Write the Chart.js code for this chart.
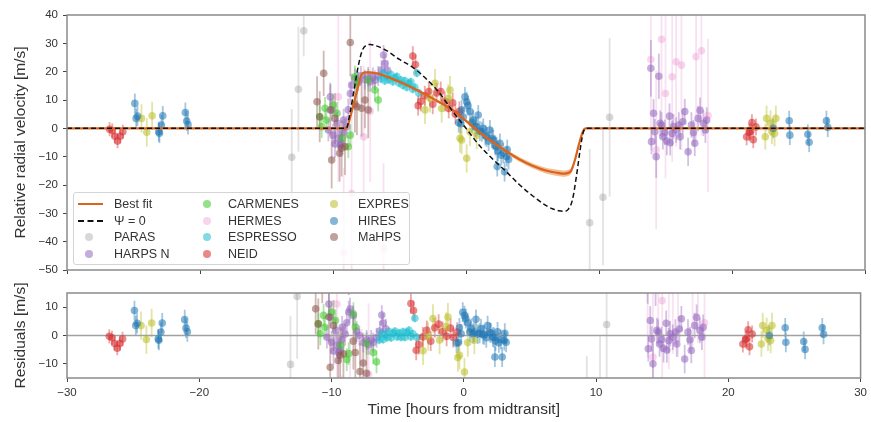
<!DOCTYPE html>
<html>
<head>
<meta charset="utf-8">
<script src="https://cdn.jsdelivr.net/npm/chart.js@4.4.1/dist/chart.umd.min.js"></script>
<style>
  body { margin: 0; background: #fff; font-family: "Liberation Sans", Arial, sans-serif; }
  #wrap { position: relative; width: 871px; height: 422px; }
  #wrap canvas { position: absolute; left: 0; }
  #legend { position: absolute; left: 73px; top: 192px; width: 337px; height: 73px; box-sizing: border-box;
            border: 1px solid #d4d4d4; border-radius: 3px; background: rgba(255,255,255,0.8); }
  .lg-text { position: absolute; font-size: 12.5px; color: #333; line-height: 14px; white-space: nowrap; }
  .lg-dot { position: absolute; width: 8px; height: 8px; border-radius: 50%; }
  .lg-line { position: absolute; width: 25px; height: 0; }
</style>
</head>
<body>
<div id="wrap">
  <canvas id="rv" width="871" height="285" style="top:0"></canvas>
  <canvas id="res" width="871" height="142" style="top:280px"></canvas>
  <div id="legend"></div>
</div>
<script>
// ---- tick labels ----
const timeTicks = [-30, -20, -10, 0, 10, 20, 30];
const rvTicks = [-50, -40, -30, -20, -10, 0, 10, 20, 30, 40];
const resTicks = [-10, 0, 10];

// ---- models ----
const fitT = [-30, -9.0, -8.7, -8.4, -8.1, -7.9, -7.7, -7.4, -7.0, -6.5, -6.0, -5.0, -4.0, -3.0, -2.0, -1.0, 0, 1, 2, 3, 4, 5, 6, 6.5, 7, 7.3, 7.6, 7.9, 8.2, 8.5, 8.8, 9.0, 30];
const fitV = [0, 0, 4, 9.5, 15, 18.5, 19.6, 19.8, 19.6, 19.2, 18.3, 16.4, 14.2, 11.8, 9.2, 6.4, 2.6, -1.3, -4.8, -8.0, -10.9, -13.2, -14.9, -15.4, -15.8, -16.0, -15.8, -15.0, -11.0, -5.5, -1.0, 0, 0];
const fitSpread = [0, 0, 0.3, 0.4, 0.4, 0.4, 0.4, 0.4, 0.4, 0.4, 0.4, 0.4, 0.4, 0.45, 0.45, 0.5, 0.5, 0.55, 0.6, 0.7, 0.8, 0.9, 1.0, 1.05, 1.1, 1.1, 1.1, 1.0, 0.8, 0.5, 0.2, 0, 0];
const nullT = [-30, -9.0, -8.7, -8.4, -8.1, -7.8, -7.5, -7.2, -6.8, -6.0, -5.0, -4.0, -3.0, -2.0, -1.0, 0, 1, 2, 3, 4, 5, 6, 6.5, 7, 7.4, 7.7, 8.0, 8.3, 8.6, 8.8, 9.0, 30];
const nullV = [0, 0, 6, 14, 22, 27.5, 29.3, 29.6, 29.2, 27.5, 24.3, 21.5, 17.5, 12.5, 6.0, 0, -6.0, -10.8, -15.2, -19.8, -23.8, -27.2, -28.4, -29.1, -29.3, -28.5, -25.3, -17, -7, -1.7, 0, 0];

// ---- instruments: time [h], RV [m/s], residual [m/s], error [m/s] ----
const parasT = [-13.1, -12.6, -12.2, 9.3, 10.3, 10.8];
const parasRV = [-10.2, 13.8, 34.4, -33.3, -24.3, 3.9];
const parasRes = [-10.2, 13.8, 34.4, -33.3, -24.3, 3.9];
const parasErr = [17, 22, 9, 26, 24, 28];

const harpsT = [-10.35, -10.2, -10.1, -10.0, -9.85, -9.7, -9.6, -9.45, -9.35, -9.25, -9.2, -8.97, -8.85, -8.7, -8.6, -8.35, -8.1, -7.9, -7.6, -7.35, -7.2, -7.0, -6.85, -6.6, -6.35, -6.2, -6.1, -5.9,
  13.9, 13.95, 14.1, 14.2, 14.3, 14.5, 14.6, 14.7, 14.8, 14.95, 15.1, 15.3, 15.35, 15.5, 15.6, 15.8, 16.0, 16.1, 16.3, 16.45, 16.7, 16.95, 17.1, 17.2, 17.45, 17.6, 17.85, 18.0, 18.1];
const harpsRV = [-0.6, 11.1, 6.5, -2.4, -5.5, 1.8, -3.5, -6.0, -5.3, -1.5, 2.9, 0.5, 6.5, 12.3, 15.3, 17.6, 16.5, 18.5, 17.2, 18.2, 16.4, 18.0, 17.0, 18.5, 20.6, 25.9, 22.9, 20.5,
  21.2, -4.7, 5.3, -1.2, -10.0, 18.4, 1.8, 1.2, -3.0, -1.4, -4.5, 4.3, -5.1, -1.8, 0.6, -0.6, 1.2, -3.0, 2.3, 5.9, -8.3, 1.2, -1.5, -5.3, 3.5, 6.4, 1.8, -0.6, 2.9];
const harpsRes = [-0.6, 11.1, 6.5, -2.4, -5.5, 1.8, -3.5, -6.0, -5.3, -1.5, 2.9, 0.5, 4.5, 8.3, 9.3, 7.1, 1.5, 0, -2.5, -1.6, -3.3, -1.6, -2.5, -0.8, 1.6, 7.2, 4.4, 2.4,
  21.2, -4.7, 5.3, -1.2, -10.0, 18.4, 1.8, 1.2, -3.0, -1.4, -4.5, 4.3, -5.1, -1.8, 0.6, -0.6, 1.2, -3.0, 2.3, 5.9, -8.3, 1.2, -1.5, -5.3, 3.5, 6.4, 1.8, -0.6, 2.9];
const harpsErr = [4, 5, 4, 4, 5, 4, 4, 4, 4, 4, 4, 4, 4, 4, 4, 3.5, 3.5, 3.5, 3.5, 3.5, 3.5, 3.5, 3.5, 3.5, 3.5, 3.5, 3.5, 3.5,
  10, 4.5, 5, 4.5, 7.5, 8, 4.5, 4.5, 4.5, 4.5, 5, 4.5, 4.5, 4.5, 4.5, 4.5, 4.5, 4.5, 4.5, 4.5, 5, 4.5, 4.5, 4.5, 4.5, 4.5, 4.5, 4.5, 4.5];

const carmT = [-11.0, -10.85, -10.6, -10.5, -10.0, -9.7, -9.3, -8.85, -8.7, -8.35, -8.2, -7.35, -6.85, -6.6];
const carmRV = [4.1, 0.6, 7.1, 2.9, 8.2, 5.3, -3.5, -6.5, -2.4, 18.2, 15.9, 17.0, 13.5, 10.0];
const carmRes = [4.1, 0.6, 7.1, 2.9, 8.2, 5.3, -3.5, -8.5, -6.4, 7.7, 3.0, -2.8, -6.0, -9.3];
const carmErr = [4, 4, 4, 4, 4, 4, 4, 4, 4, 4, 4, 4, 4, 4];

const hermT = [-9.6, -9.2, -8.6, -7.7, -7.2, -6.2, 13.9, 14.3, 14.7, 15.0, 15.5, 15.8, 16.2, 17.3, 17.7, 18.2];
const hermRV = [11.1, -44, -23, -3, 6, -42.3, 24.3, -7.6, 31.4, 12.3, 18.2, 23.5, 22.3, 25.3, 27.4, 4.5];
const hermRes = [11.1, -44, -29, -22.7, -13.7, -61, 24.3, -7.6, 31.4, 12.3, 18.2, 23.5, 22.3, 25.3, 27.4, 4.5];
const hermErr = [30, 30, 28, 25, 25, 30, 32, 28, 30, 30, 30, 30, 30, 30, 30, 27];

const espT = [-6.4, -6.25, -6.1, -5.95, -5.8, -5.65, -5.5, -5.35, -5.2, -5.05, -4.9, -4.75, -4.6, -4.45, -4.3, -4.15, -4.0, -3.85, -3.7, -3.55];
const espRV = [17.5, 19.5, 16.8, 18.5, 17.2, 19.0, 16.5, 17.8, 18.3, 16.0, 17.0, 15.2, 16.8, 14.5, 15.9, 16.4, 13.8, 14.5, 19.5, 12.5];
const espRes = [-1.6, 0.7, -1.4, 0.3, -0.7, 1.4, -0.8, 0.8, 1.5, -0.4, 0.9, -0.6, 1.3, -0.6, 1.1, 1.8, -0.4, 0.6, 6.1, -0.6];
const espErr = [1.5, 1.5, 1.5, 1.5, 1.5, 1.5, 1.5, 1.5, 1.5, 1.5, 1.5, 1.5, 1.5, 1.5, 1.5, 1.5, 1.5, 1.5, 1.5, 1.5];

const neidT = [-26.8, -26.6, -26.4, -26.2, -26.0, -25.8, -4.0, -3.8, -3.6, -3.4, -3.1, -2.8, -2.5, -2.2, -1.9, -1.6, -1.3, -1.0, -0.8, -0.5, 21.1, 21.3, 21.4, 21.5, 21.6, 21.8];
const neidRV = [-0.3, -0.8, -2.8, -4.5, -2.8, -1.2, 25.5, 22.5, 8, 9.5, 11.5, 13, 8.5, 12.5, 13, 9.5, 7, 9, 5, 6, -3, -1.5, -1, 2, -4, 0.5];
const neidRes = [-0.3, -0.8, -2.8, -4.5, -2.8, -1.2, 11.3, 8.8, -5.2, -3.2, -0.5, 1.8, -2, 2.7, 4, 1.4, -0.3, 2.6, -0.7, 1.2, -3, -1.5, -1, 2, -4, 0.5];
const neidErr = [2.5, 2.5, 2.5, 2.5, 2.5, 2.5, 3.5, 3.5, 3.5, 3.5, 3.5, 3.5, 3.5, 3.5, 3.5, 3.5, 3.5, 3.5, 3.5, 3.5, 3, 3, 3, 3, 3, 3];

const expT = [-24.4, -24.0, -23.6, -3.08, -2.7, -2.33, -1.83, -1.33, -1.2, -0.45, -0.33, 0.05, 0.3, 0.8, 22.5, 22.6, 22.9, 23.0, 23.2, 23.3];
const expRV = [3.5, -1.4, 4.4, 6.5, 10.6, 15.9, 7.0, 10.6, 13.5, -3.5, -4.1, -10.6, -1.2, -2.4, -3.0, 3.5, 1.8, -1.0, -1.8, 3.5];
const expRes = [3.5, -1.4, 4.4, -5.4, -0.3, 6.0, -1.6, 3.2, 6.5, -7.8, -7.0, -12.9, -2.5, -1.6, -3.0, 3.5, 1.8, -1.0, -1.8, 3.5];
const expErr = [5, 5, 5, 5, 5, 5, 5, 5, 5, 5, 5, 5, 5, 5, 4.5, 4.5, 4.5, 4.5, 4.5, 4.5];

const hiresT = [-24.9, -24.8, -24.7, -23.1, -23.05, -22.9, -22.8, -21.1, -21.0, -20.9,
  -0.55, -0.4, -0.33, -0.2, -0.08, 0.05, 0.15, 0.3, 0.45, 0.55, 0.7, 0.8, 0.92, 1.05, 1.2, 1.3, 1.45, 1.55, 1.7, 1.8, 1.95, 2.05, 2.2, 2.3, 2.4, 2.55, 2.65, 2.8, 2.9, 3.06, 3.2, 2.35, 3.1,
  23.1, 24.3, 24.35, 25.7, 25.8, 27.1, 27.2];
const hiresRV = [8.8, 3.5, 4.3, -1.2, -1.7, 1.2, 4.4, 5.6, 2.6, 1.3,
  2.0, 1.6, 6.5, 4.0, 11.1, 9.4, 8.0, 5.9, 2.0, 2.9, 0.5, 0.6, 4.7, -1.0, -1.2, 0.0, -2.5, -3.0, -4.5, -0.6, -3.5, -4.1, -6.0, -6.5, -8.0, -5.3, -9.5, -8.8, -15.3, -10.0, -11.0, -13.5, -7.5,
  0.0, 2.7, -2.4, -2.1, -4.9, 2.7, 0.4];
const hiresRes = [8.8, 3.5, 4.3, -1.2, -1.7, 1.2, 4.4, 5.6, 2.6, 1.3,
  -2.7, -2.5, 2.7, 0.6, 8.2, 7.0, 6.0, 4.5, 1.2, 2.5, 0.7, 1.2, 5.7, 0.5, 0.8, 2.4, 0.4, 0.2, -0.8, 3.5, 1.1, 0.9, -0.6, -0.7, -1.9, 1.3, -2.6, -1.4, -7.6, -1.8, -2.4, -7.6, 0.8,
  0.0, 2.7, -2.4, -2.1, -4.9, 2.7, 0.4];
const hiresErr = [3.5, 3.5, 3.5, 3.5, 3.5, 3.5, 3.5, 3.5, 3.5, 3.5,
  3.5, 3.5, 3.5, 3.5, 3.5, 3.5, 3.5, 3.5, 3.5, 3.5, 3.5, 3.5, 3.5, 3.5, 3.5, 3.5, 3.5, 3.5, 3.5, 3.5, 3.5, 3.5, 3.5, 3.5, 3.5, 3.5, 3.5, 3.5, 3.5, 3.5, 3.5, 3.5, 3.5,
  3.5, 3.5, 3.5, 3.5, 3.5, 3.5, 3.5];

const mahT = [-11.2, -11.0, -10.7, -10.2, -10.1, -9.85, -9.5, -9.35, -9.1, -8.7, -8.35, -8.2, -7.85, -7.6, -7.35];
const mahRV = [9.4, 4.1, 19.4, 6.5, -11.2, 3.5, -8.8, -7.0, -6.5, 30.3, 8.5, 7.6, 7.1, 10.0, 6.5];
const mahRes = [9.4, 4.1, 19.4, 6.5, -11.2, 3.5, -8.8, -7.0, -6.5, 26.3, -2.0, -6.0, -12.7, -9.7, -13.3];
const mahErr = [9, 9, 8, 9, 10, 9, 10, 10, 10, 12, 10, 10, 10, 10, 10];

// plotting order = legend order (later ones end up on top)
const instruments = [
  { name: "PARAS", t: parasT, rv: parasRV, res: parasRes, err: parasErr, rgb: "127,127,127", a: 0.3 },
  { name: "HARPS N", t: harpsT, rv: harpsRV, res: harpsRes, err: harpsErr, rgb: "148,103,189", a: 0.55 },
  { name: "CARMENES", t: carmT, rv: carmRV, res: carmRes, err: carmErr, rgb: "60,200,40", a: 0.55 },
  { name: "HERMES", t: hermT, rv: hermRV, res: hermRes, err: hermErr, rgb: "227,119,194", a: 0.3 },
  { name: "ESPRESSO", t: espT, rv: espRV, res: espRes, err: espErr, rgb: "23,190,207", a: 0.55 },
  { name: "NEID", t: neidT, rv: neidRV, res: neidRes, err: neidErr, rgb: "214,39,40", a: 0.55 },
  { name: "EXPRES", t: expT, rv: expRV, res: expRes, err: expErr, rgb: "188,189,34", a: 0.55 },
  { name: "HIRES", t: hiresT, rv: hiresRV, res: hiresRes, err: hiresErr, rgb: "31,119,180", a: 0.55 },
  { name: "MaHPS", t: mahT, rv: mahRV, res: mahRes, err: mahErr, rgb: "140,86,75", a: 0.55 },
];

const FIT_COLOR = "rgb(218,100,28)";
const TICK_FONT = { family: "'Liberation Sans', Arial, sans-serif", size: 11.5 };
const TITLE_FONT = { family: "'Liberation Sans', Arial, sans-serif", size: 15.5 };

const fmt = (v) => (v < 0 ? "\u2212" + Math.abs(v) : String(v));

// error bars drawn under the markers, through the chart's own scales
const errorBars = {
  id: "errorBars",
  beforeDatasetsDraw(chart) {
    const { ctx, chartArea: a, scales: { x, y } } = chart;
    ctx.save();
    ctx.beginPath();
    ctx.rect(a.left, a.top, a.right - a.left, a.bottom - a.top);
    ctx.clip();
    ctx.lineWidth = 1.8;
    chart.data.datasets.forEach((ds) => {
      if (!ds.errColor) return;
      ctx.strokeStyle = ds.errColor;
      ds.data.forEach((p) => {
        const px = x.getPixelForValue(p.x);
        ctx.beginPath();
        ctx.moveTo(px, y.getPixelForValue(p.y - p.e));
        ctx.lineTo(px, y.getPixelForValue(p.y + p.e));
        ctx.stroke();
      });
    });
    ctx.restore();
  },
};

const frame = {
  id: "frame",
  afterDraw(chart) {
    const { ctx, chartArea: a } = chart;
    ctx.save();
    ctx.strokeStyle = "#8a8a8a";
    ctx.lineWidth = 1.5;
    ctx.strokeRect(a.left, a.top, a.right - a.left, a.bottom - a.top);
    ctx.restore();
  },
};

function instrumentSets(field) {
  // reversed so the last instrument is drawn on top (index 0 = topmost in Chart.js)
  return instruments.slice().reverse().map((ins) => ({
    label: ins.name,
    data: ins.t.map((t, i) => ({ x: t, y: ins[field][i], e: ins.err[i] })),
    showLine: false,
    pointRadius: 3.8,
    pointHoverRadius: 3.8,
    pointBorderWidth: 0,
    pointBackgroundColor: `rgba(${ins.rgb},${ins.a})`,
    borderColor: `rgba(${ins.rgb},${ins.a})`,
    errColor: `rgba(${ins.rgb},${ins.a * 0.75})`,
  }));
}

const line = (xs, ys, extra) => Object.assign({
  data: xs.map((x, i) => ({ x, y: ys[i] })),
  pointRadius: 0,
  cubicInterpolationMode: "monotone",
  fill: false,
}, extra);

function xScale(showLabels, height) {
  return {
    type: "linear",
    min: -30,
    max: 30,
    afterBuildTicks: (s) => { s.ticks = timeTicks.map((v) => ({ value: v })); },
    afterFit: (s) => { s.height = height; },
    grid: { drawOnChartArea: false, drawTicks: true, tickLength: 4, color: "#444" },
    border: { display: false },
    ticks: { display: showLabels, color: "#333", font: TICK_FONT, padding: 4, maxRotation: 0, callback: fmt },
    title: {
      display: showLabels,
      text: "Time [hours from midtransit]",
      color: "#333",
      font: TITLE_FONT,
      padding: { top: 0, bottom: 3 },
    },
  };
}

function yScale(min, max, ticks, title) {
  return {
    min,
    max,
    afterBuildTicks: (s) => { s.ticks = ticks.map((v) => ({ value: v })); },
    afterFit: (s) => { s.width = 67; },
    grid: { drawOnChartArea: false, drawTicks: true, tickLength: 4, color: "#444" },
    border: { display: false },
    ticks: { color: "#333", font: TICK_FONT, padding: 5, callback: fmt },
    title: { display: true, text: title, color: "#333", font: TITLE_FONT, padding: { top: 11, bottom: 0 } },
  };
}

const common = {
  responsive: false,
  animation: false,
  devicePixelRatio: 1,
  events: [],
  plugins: { legend: { display: false }, tooltip: { enabled: false } },
};

// top panel: radial velocities + models
new Chart(document.getElementById("rv"), {
  type: "line",
  data: {
    datasets: [
      line(nullT, nullV, { borderColor: "#111", borderWidth: 1.5, borderDash: [5, 3] }),
      line(fitT, fitV, { borderColor: FIT_COLOR, borderWidth: 2.2 }),
      line(fitT, fitV.map((v, i) => v + fitSpread[i]), { borderWidth: 0, fill: "+1", backgroundColor: "rgba(232,125,45,0.5)" }),
      line(fitT, fitV.map((v, i) => v - fitSpread[i]), { borderWidth: 0 }),
      ...instrumentSets("rv"),
    ],
  },
  options: Object.assign({}, common, {
    layout: { padding: { left: 0, right: 6, top: 15, bottom: 0 } },
    scales: {
      x: xScale(false, 15),
      y: yScale(-50, 40, rvTicks, "Relative radial velocity [m/s]"),
    },
  }),
  plugins: [errorBars, frame],
});

// bottom panel: residuals
new Chart(document.getElementById("res"), {
  type: "line",
  data: {
    datasets: [
      ...instrumentSets("res"),
      line([-30, 30], [0, 0], { borderColor: "#a0a0a0", borderWidth: 1.3 }),
    ],
  },
  options: Object.assign({}, common, {
    layout: { padding: { left: 0, right: 6, top: 13, bottom: 0 } },
    scales: {
      x: xScale(true, 44),
      y: yScale(-15, 15, resTicks, "Residuals [m/s]"),
    },
  }),
  plugins: [errorBars, frame],
});

// legend (matplotlib style, 3 columns filled column-wise)
const legendItems = [
  { label: "Best fit", kind: "fit" },
  { label: "\u03A8 = 0", kind: "null" },
  ...instruments.map((ins) => ({ label: ins.name, kind: "dot", color: `rgba(${ins.rgb},${ins.a})` })),
];
const rowY = [11, 27.5, 44, 60.5];
const colMarkX = [15, 133, 260];
const colTextX = [40, 154, 284];
const lg = document.getElementById("legend");
legendItems.forEach((it, i) => {
  const col = Math.floor(i / 4), row = i % 4;
  const cy = rowY[row];
  let m = document.createElement("div");
  if (it.kind === "dot") {
    m.className = "lg-dot";
    m.style.left = colMarkX[col] - 4 + "px";
    m.style.top = cy - 4 + "px";
    m.style.background = it.color;
  } else {
    m.className = "lg-line";
    m.style.left = colMarkX[col] - 11 + "px";
    m.style.top = cy - 1 + "px";
    m.style.borderTop = it.kind === "fit" ? "2px solid " + FIT_COLOR : "2px dashed #111";
  }
  lg.appendChild(m);
  const t = document.createElement("div");
  t.className = "lg-text";
  t.style.left = colTextX[col] + "px";
  t.style.top = cy - 7 + "px";
  t.textContent = it.label;
  lg.appendChild(t);
});
</script>
</body>
</html>
